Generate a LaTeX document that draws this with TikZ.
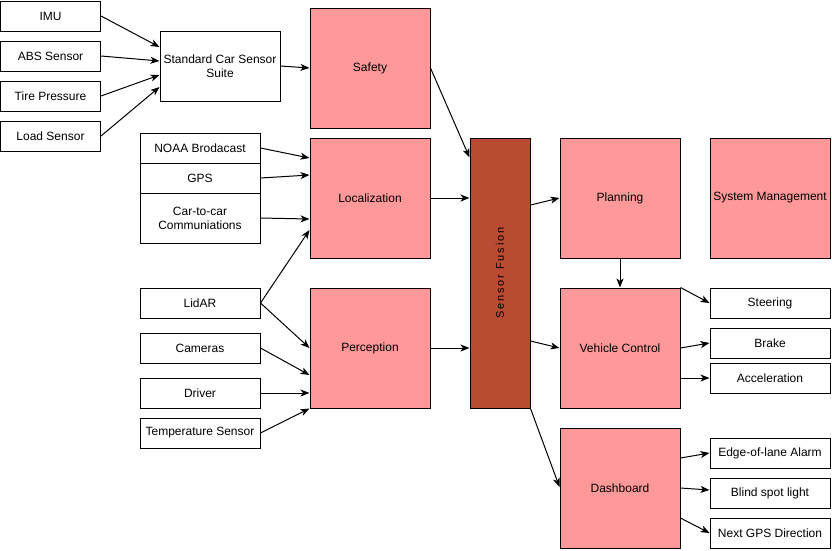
\documentclass[tikz,border=0pt]{standalone}
\usepackage{fontspec}
\setmainfont{Liberation Sans}
\usepackage{tikz}
\usetikzlibrary{arrows.meta, calc}

\definecolor{blockpink}{HTML}{FF9999}
\definecolor{fusionred}{HTML}{B94B32}

\begin{document}
\begin{tikzpicture}[
    x=1pt, y=-1pt,
    every node/.style={font=\fontsize{12}{14}\selectfont},
    sensor/.style={rectangle, draw=black, line width=1pt, fill=white, minimum width=120pt, minimum height=30pt, inner sep=1pt, align=center},
    small/.style={sensor, minimum width=100pt},
    module/.style={rectangle, draw=black, line width=1pt, fill=blockpink, minimum width=120pt, minimum height=120pt, inner sep=1pt, align=center},
    fusion/.style={rectangle, draw=black, line width=1pt, fill=fusionred, minimum width=60pt, minimum height=270pt, inner sep=0pt},
    arrow/.style={-{Stealth[length=9pt, width=7pt, inset=2.5pt]}, line width=1pt}
]
\useasboundingbox (0,0) rectangle (832,550);

% Car sensors (far left)
\node[small] (imu) at (50.5,16) {IMU};
\node[small] (abs) at (50.5,56) {ABS Sensor};
\node[small] (tire) at (50.5,96) {Tire Pressure};
\node[small] (load) at (50.5,136) {Load Sensor};
\node[sensor, minimum height=70pt] (scss) at (220,66) {Standard Car Sensor\\Suite};

% Localization inputs
\node[sensor] (noaa) at (200,148) {NOAA Brodacast};
\node[sensor] (gps) at (200,178) {GPS};
\node[sensor, minimum height=50pt] (c2c) at (200,218) {Car-to-car\\Communiations};

% Perception inputs
\node[sensor] (lidar) at (200,303) {LidAR};
\node[sensor] (cams) at (200,348) {Cameras};
\node[sensor] (driver) at (200,393) {Driver};
\node[sensor] (temp) at (200,433) {Temperature Sensor};

% Main modules
\node[module] (safety) at (370,68) {Safety};
\node[module] (loc) at (370,198) {Localization};
\node[module] (perc) at (370,348) {Perception};
\node[fusion] (sf) at (500,273) {\rotatebox{90}{\fontsize{11}{13}\selectfont S\,e\,n\,s\,o\,r\, F\,u\,s\,i\,o\,n}};
\node[module] (plan) at (620,198) {Planning};
\node[module] (sysm) at (770,198) {System Management};
\node[module] (vc) at (620,348) {Vehicle Control};
\node[module] (dash) at (620,488) {Dashboard};

% Outputs (right column)
\node[sensor] (steer) at (770,303) {Steering};
\node[sensor] (brake) at (770,343) {Brake};
\node[sensor] (accel) at (770,378) {Acceleration};
\node[sensor] (edge) at (770,453) {Edge-of-lane Alarm};
\node[sensor] (blind) at (770,493) {Blind spot light};
\node[sensor] (nextgps) at (770,533) {Next GPS Direction};

% Arrows into the sensor suite
\draw[arrow] (imu.east) -- ($(scss.west)+(0,-19)$);
\draw[arrow] (abs.east) -- ($(scss.west)+(0,-5)$);
\draw[arrow] (tire.east) -- ($(scss.west)+(0,9)$);
\draw[arrow] (load.east) -- ($(scss.west)+(0,21)$);
\draw[arrow] (scss.east) -- (safety.west);

% Arrows into localization and perception
\draw[arrow] (noaa.east) -- ($(loc.west)+(0,-40)$);
\draw[arrow] (gps.east) -- ($(loc.west)+(0,-23)$);
\draw[arrow] (c2c.east) -- ($(loc.west)+(0,21)$);
\draw[arrow] (lidar.east) -- ($(loc.west)+(0,32)$);
\draw[arrow] (lidar.east) -- (perc.west);
\draw[arrow] (cams.east) -- ($(perc.west)+(0,27)$);
\draw[arrow] (driver.east) -- ($(perc.west)+(0,45)$);
\draw[arrow] (temp.east) -- (perc.south west);

% Arrows into sensor fusion
\draw[arrow] (safety.east) -- ($(sf.north west)+(0,20)$);
\draw[arrow] (loc.east) -- (loc.east -| sf.west);
\draw[arrow] (perc.east) -- (perc.east -| sf.west);

% Arrows out of sensor fusion
\draw[arrow] ($(sf.east)+(0,-68)$) -- (plan.west);
\draw[arrow] ($(sf.east)+(0,68)$) -- (vc.west);
\draw[arrow] (sf.south east) -- ($(dash.west)+(0,-1)$);
\draw[arrow] (plan.south) -- (vc.north);

% Arrows to the outputs
\draw[arrow] (vc.north east) -- (steer.west);
\draw[arrow] (vc.east) -- (brake.west);
\draw[arrow] ($(vc.east)+(0,30)$) -- (accel.west);
\draw[arrow] ($(dash.east)+(0,-30)$) -- (edge.west);
\draw[arrow] (dash.east) -- ($(blind.west)+(0,-3)$);
\draw[arrow] ($(dash.east)+(0,30)$) -- (nextgps.west);

\end{tikzpicture}
\end{document}
